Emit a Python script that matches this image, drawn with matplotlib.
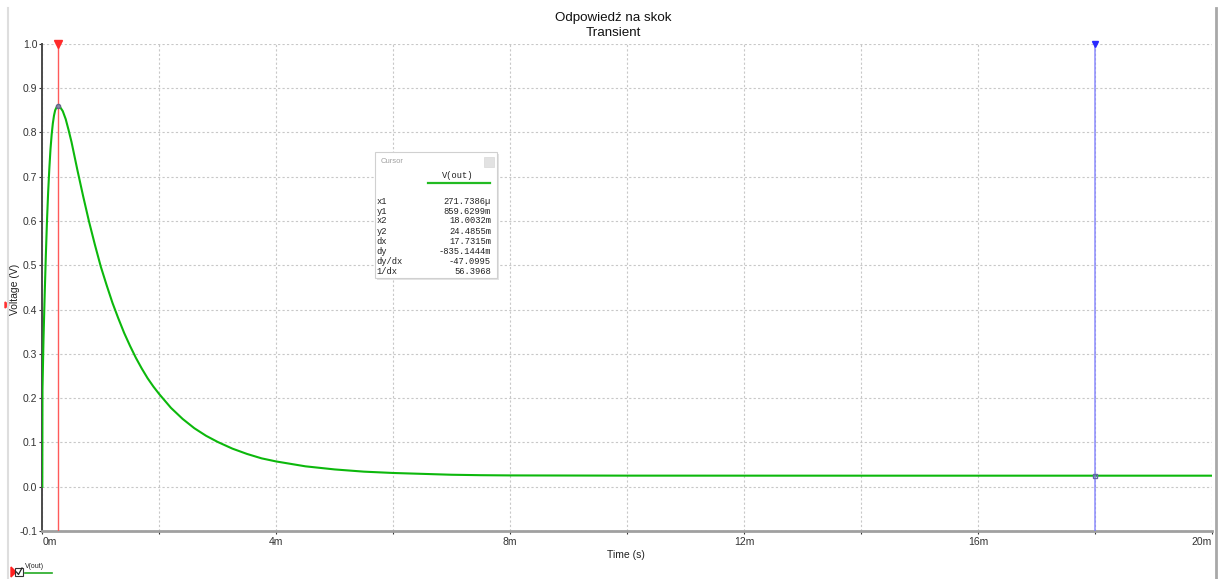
import matplotlib
matplotlib.use("Agg")
import matplotlib.pyplot as plt
from matplotlib.patches import Rectangle, Polygon
from matplotlib.lines import Line2D

# ---- data (time in ms, voltage in V) ----
t_ms = [0.0, 0.003, 0.02, 0.04, 0.06, 0.08, 0.10, 0.12, 0.14, 0.16, 0.18,
        0.20, 0.22, 0.245, 0.2717, 0.30, 0.35, 0.40, 0.45, 0.50, 0.60, 0.70,
        0.80, 0.90, 1.00, 1.10, 1.20, 1.30, 1.40, 1.50, 1.60, 1.70, 1.80,
        1.90, 2.00, 2.20, 2.40, 2.60, 2.80, 3.00, 3.25, 3.50, 3.75, 4.00,
        4.50, 5.00, 5.50, 6.00, 6.50, 7.00, 7.50, 8.00, 10.0, 14.0, 18.0032,
        20.0]
v_out = [0.0, 0.22, 0.33, 0.43, 0.52, 0.60, 0.665, 0.718, 0.762, 0.795,
         0.820, 0.838, 0.850, 0.857, 0.8596, 0.858, 0.848, 0.830, 0.805,
         0.778, 0.715, 0.655, 0.598, 0.546, 0.497, 0.455, 0.415, 0.380,
         0.347, 0.318, 0.291, 0.267, 0.245, 0.226, 0.209, 0.178, 0.153,
         0.132, 0.115, 0.101, 0.086, 0.074, 0.064, 0.057, 0.046, 0.039,
         0.034, 0.031, 0.029, 0.027, 0.026, 0.0255, 0.0250, 0.0249, 0.0249,
         0.0249]

cursor1 = (0.2717386, 0.8596299)   # x1 (ms), y1 (V)
cursor2 = (18.0032, 0.0248855)     # x2 (ms), y2 (V)

x_ticks = [0, 2, 4, 6, 8, 10, 12, 14, 16, 18, 20]
x_ticklabels = ["0m", "", "4m", "", "8m", "", "12m", "", "16m", "", "20m"]
y_ticks = [-0.1, 0.0, 0.1, 0.2, 0.3, 0.4, 0.5, 0.6, 0.7, 0.8, 0.9, 1.0]
y_ticklabels = ["-0.1", "0.0", "0.1", "0.2", "0.3", "0.4", "0.5", "0.6",
                "0.7", "0.8", "0.9", "1.0"]

cursor_rows = ["x1", "y1", "x2", "y2", "dx", "dy", "dy/dx", "1/dx"]
cursor_vals = ["271.7386\u00b5", "859.6299m", "18.0032m", "24.4855m",
               "17.7315m", "-835.1444m", "-47.0995", "56.3968"]

W, H = 1218, 579
plt.rcParams['font.family'] = ['Liberation Sans', 'DejaVu Sans']
fig = plt.figure(figsize=(W / 100, H / 100), dpi=100)
fig.patch.set_facecolor("white")


def fx(x):
    return x / W


def fy(y):
    return 1 - y / H


ax_left, ax_right, ax_top, ax_bot = 42.3, 1212.0, 43.8, 531.0
ax = fig.add_axes([fx(ax_left), fy(ax_bot), (ax_right - ax_left) / W,
                   (ax_bot - ax_top) / H])
ax.set_xlim(0, 20)
ax.set_ylim(-0.1, 1.0)

ax.set_xticks(x_ticks)
ax.set_xticklabels(x_ticklabels, fontsize=7.5, color="#333333")
ax.set_yticks(y_ticks)
ax.set_yticklabels(y_ticklabels, fontsize=7.5, color="#333333")
labs = ax.get_xticklabels()
labs[0].set_ha("left")
labs[-1].set_ha("right")
ax.tick_params(axis="both", length=2, width=0.8, color="#333333", pad=2)
ax.tick_params(axis="y", pad=1.5)

ax.grid(True, color="#c8c8c8", linestyle=(0, (2, 2)), linewidth=0.8)
ax.set_axisbelow(True)
for s in ("top", "right"):
    ax.spines[s].set_visible(False)
ax.spines["left"].set_color("#4a4a4a")
ax.spines["left"].set_linewidth(1.4)
ax.spines["bottom"].set_color("#a0a0a0")
ax.spines["bottom"].set_linewidth(2.0)

# curve
ax.plot(t_ms, v_out, color="#0cb80c", linewidth=1.5, zorder=3)

# cursors
ax.axvline(cursor1[0], color="#ff5a5a", linewidth=1.0, zorder=4)
ax.axvline(cursor2[0], color="#7c7cff", linewidth=1.2, alpha=0.8, zorder=4)
ax.plot([cursor1[0]], [1.0], marker="v", color="#ff2a2a", markersize=6,
        clip_on=False, zorder=6)
ax.plot([cursor2[0]], [1.0], marker="v", color="#2a2aff", markersize=5,
        clip_on=False, zorder=6)
ax.plot([cursor1[0]], [cursor1[1]], marker="o", markersize=3,
        markerfacecolor="#8888aa", markeredgecolor="#666688", zorder=5)
ax.plot([cursor2[0]], [cursor2[1]], marker="s", markersize=3,
        markerfacecolor="none", markeredgecolor="#6666aa", zorder=5)

# titles / labels
fig.text(fx(613), fy(17.5), "Odpowiedź na skok", ha="center", va="center",
         fontsize=9.6, color="#111111")
fig.text(fx(613), fy(33), "Transient", ha="center", va="center",
         fontsize=9.6, color="#111111")
fig.text(fx(626), fy(555), "Time (s)", ha="center", va="center",
         fontsize=7.5, color="#222222")
fig.text(fx(15), fy(289), "Voltage (V)", ha="center", va="center",
         rotation=90, fontsize=7.5, color="#222222")

# frame lines
fig.add_artist(Line2D([fx(7.5), fx(7.5)], [fy(8), fy(579)],
                      color="#dedede", linewidth=1.5))
fig.add_artist(Line2D([fx(1216), fx(1216)], [fy(8), fy(579)],
                      color="#a8a8a8", linewidth=2))
fig.add_artist(Polygon([[fx(5), fy(302)], [fx(5), fy(308)], [fx(9), fy(305)]],
                       closed=True, color="#ff3030", transform=fig.transFigure))

# cursor box
fig.add_artist(Rectangle((fx(377), fy(280)), 122 / W, 126 / H,
                         transform=fig.transFigure, facecolor="#e4e4e4",
                         edgecolor="none", zorder=8))
fig.add_artist(Rectangle((fx(375), fy(278)), 122 / W, 126 / H,
                         transform=fig.transFigure, facecolor="white",
                         edgecolor="#d0d0d0", linewidth=0.8, zorder=9))
fig.text(fx(381), fy(161.5), "Cursor", fontsize=5.5, color="#a0a0a0",
         ha="left", va="center", zorder=10)
fig.add_artist(Rectangle((fx(484), fy(167)), 10 / W, 10 / H,
                         transform=fig.transFigure, facecolor="#e2e2e2",
                         edgecolor="#d8d8d8", linewidth=0.5, zorder=10))
fig.text(fx(458), fy(176), "V(out)", fontsize=6.3, family="Liberation Mono",
         color="#222222", ha="center", va="center", zorder=10)
fig.add_artist(Line2D([fx(428), fx(490)], [fy(182.8), fy(182.8)],
                      color="#22bb22", linewidth=1.6, zorder=10))
row_y = [201, 211, 221, 231.5, 241.5, 251.5, 262, 272]
for lab, val, yy in zip(cursor_rows, cursor_vals, row_y):
    fig.text(fx(376.5), fy(yy), lab, fontsize=6.3, family="Liberation Mono",
             color="#222222", ha="left", va="center", zorder=10)
    fig.text(fx(491), fy(yy), val, fontsize=6.3, family="Liberation Mono",
             color="#222222", ha="right", va="center", zorder=10)

# bottom legend
fig.add_artist(Polygon([[fx(11), fy(567)], [fx(11), fy(577)], [fx(16), fy(572)]],
                       closed=True, color="#ff2020", transform=fig.transFigure))
fig.add_artist(Rectangle((fx(15), fy(576)), 8 / W, 8 / H,
                         transform=fig.transFigure, facecolor="white",
                         edgecolor="#333333", linewidth=0.8))
fig.add_artist(Line2D([fx(16.5), fx(18.5), fx(22)], [fy(572), fy(574.5), fy(568)],
                      color="#222222", linewidth=0.9))
fig.text(fx(25), fy(566), "V(out)", fontsize=5, color="#222222",
         ha="left", va="center")
fig.add_artist(Line2D([fx(25), fx(52)], [fy(572.5), fy(572.5)],
                      color="#22aa22", linewidth=1.2))

fig.savefig("out.png", dpi=100)
